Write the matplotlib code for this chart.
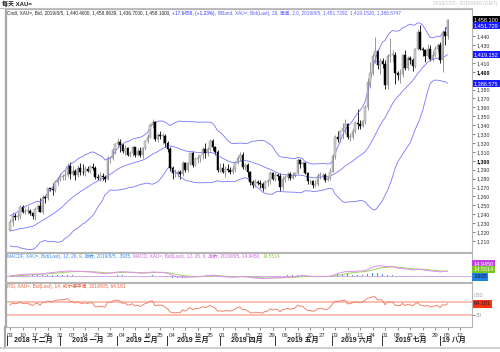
import matplotlib
matplotlib.use('Agg')
import matplotlib.pyplot as plt
import matplotlib.transforms as mtrans
from matplotlib.lines import Line2D
import numpy as np
import pandas as pd

plt.rcParams['font.family'] = ['Liberation Sans', 'Noto Sans CJK SC']

# spot gold XAU= daily, 2018-10-25 .. 2018-11-30 (only used to warm up the indicators)
warmup_close = [1232, 1235, 1228, 1223, 1215,
                1233, 1232, 1232, 1227, 1226, 1224, 1209, 1201, 1202, 1210, 1215,
                1222, 1224, 1222, 1227, 1227, 1223, 1222, 1214, 1221, 1223, 1222]

# 2018-12-03 .. 2019-08-05 (weekdays)
opens = [1222, 1231, 1238, 1237, 1238, 1248, 1243, 1244, 1244, 1241, 1238, 1246, 1249, 1243, 1259, 1258, 1269, 1268, 1267, 1276, 1280,
         1282, 1283, 1284, 1294, 1285, 1289, 1284, 1292, 1288, 1287, 1291, 1289, 1293, 1292, 1282, 1281, 1283, 1282, 1280, 1303, 1303, 1312, 1319,
         1321, 1318, 1311, 1314, 1307, 1309, 1315, 1307, 1311, 1306, 1314, 1322, 1327, 1340, 1344, 1324, 1329, 1328, 1328, 1320,
         1313, 1292, 1286, 1286, 1287, 1285, 1298, 1290, 1297, 1309, 1295, 1302, 1303, 1306, 1313, 1309, 1313, 1322, 1315, 1310, 1290,
         1292, 1287, 1291, 1290, 1288, 1291, 1298, 1303, 1307, 1293, 1295, 1287, 1276, 1273, 1276, 1275, 1274, 1270, 1276, 1277, 1286, 1280,
         1284, 1283, 1271, 1280, 1282, 1285, 1281, 1284, 1286, 1301, 1296, 1297, 1286, 1277, 1277, 1273, 1274, 1283, 1284, 1284, 1279, 1281, 1288,
         1305, 1327, 1325, 1333, 1337, 1341, 1327, 1327, 1334, 1342, 1341, 1339, 1345, 1360, 1388, 1399, 1418, 1423, 1408, 1412,
         1409, 1385, 1418, 1419, 1419, 1399, 1396, 1397, 1419, 1404, 1415, 1413, 1406, 1426, 1445, 1426, 1424, 1418, 1426, 1414, 1419, 1426, 1430,
         1413, 1445, 1440.4]
highs = [1235, 1242, 1241, 1243, 1250, 1250, 1247, 1249, 1246, 1243, 1248, 1252, 1258, 1262, 1262, 1270, 1270, 1275, 1279, 1282, 1286,
         1285, 1290, 1298, 1299, 1294, 1291, 1295, 1298, 1296, 1294, 1294, 1295, 1297, 1294, 1285, 1287, 1286, 1284, 1305, 1305, 1314, 1320, 1326,
         1325, 1320, 1318, 1316, 1311, 1317, 1316, 1314, 1315, 1316, 1323, 1330, 1342, 1347, 1345, 1331, 1334, 1331, 1330, 1322,
         1315, 1294, 1291, 1290, 1290, 1300, 1299, 1299, 1310, 1311, 1304, 1306, 1307, 1316, 1320, 1315, 1324, 1324, 1317, 1312, 1298,
         1297, 1294, 1296, 1293, 1295, 1300, 1307, 1310, 1310, 1298, 1297, 1289, 1279, 1280, 1278, 1278, 1276, 1279, 1280, 1289, 1288, 1287,
         1286, 1286, 1283, 1284, 1287, 1287, 1287, 1288, 1303, 1302, 1300, 1299, 1288, 1280, 1278, 1278, 1286, 1288, 1286, 1286, 1283, 1292, 1308,
         1329, 1333, 1335, 1342, 1347, 1342, 1331, 1337, 1345, 1358, 1346, 1346, 1363, 1393, 1411, 1421, 1439, 1426, 1415, 1416,
         1413, 1420, 1438, 1425, 1422, 1401, 1403, 1420, 1424, 1418, 1418, 1416, 1427, 1448, 1452, 1428, 1426, 1431, 1430, 1423, 1429, 1432, 1433,
         1447, 1450, 1458.96]
lows = [1221, 1227, 1234, 1233, 1235, 1241, 1240, 1240, 1239, 1235, 1234, 1244, 1242, 1240, 1253, 1256, 1266, 1262, 1265, 1273, 1277,
        1279, 1278, 1282, 1280, 1283, 1279, 1282, 1284, 1284, 1283, 1287, 1286, 1290, 1280, 1278, 1277, 1279, 1276, 1278, 1297, 1301, 1308, 1316,
        1310, 1309, 1307, 1305, 1304, 1305, 1304, 1305, 1304, 1303, 1312, 1320, 1326, 1337, 1322, 1321, 1324, 1319, 1316, 1310,
        1289, 1280, 1282, 1282, 1280, 1283, 1288, 1288, 1295, 1293, 1294, 1298, 1299, 1302, 1303, 1305, 1311, 1312, 1307, 1287, 1287,
        1286, 1282, 1287, 1285, 1285, 1288, 1296, 1300, 1291, 1290, 1282, 1273, 1270, 1271, 1273, 1270, 1266, 1268, 1272, 1274, 1278, 1277,
        1279, 1266, 1267, 1276, 1279, 1279, 1280, 1282, 1285, 1292, 1293, 1285, 1274, 1274, 1270, 1271, 1272, 1280, 1282, 1276, 1277, 1279, 1287,
        1302, 1321, 1321, 1325, 1330, 1325, 1322, 1325, 1331, 1336, 1336, 1338, 1341, 1357, 1382, 1396, 1410, 1403, 1398, 1404,
        1381, 1381, 1411, 1411, 1386, 1391, 1387, 1394, 1402, 1402, 1409, 1401, 1404, 1425, 1424, 1418, 1411, 1417, 1412, 1412, 1417, 1422, 1410,
        1400, 1430, 1436.7]
closes = [1231, 1238, 1237, 1238, 1248, 1243, 1244, 1244, 1241, 1238, 1246, 1249, 1243, 1259, 1258, 1269, 1268, 1267, 1276, 1280, 1282,
          1283, 1284, 1294, 1285, 1289, 1284, 1292, 1288, 1287, 1291, 1289, 1293, 1292, 1282, 1281, 1283, 1282, 1280, 1303, 1303, 1312, 1319, 1321,
          1318, 1311, 1314, 1307, 1309, 1315, 1307, 1311, 1306, 1314, 1322, 1327, 1340, 1344, 1324, 1329, 1328, 1328, 1320, 1313,
          1292, 1286, 1286, 1287, 1285, 1298, 1290, 1297, 1309, 1295, 1302, 1303, 1306, 1313, 1309, 1313, 1322, 1315, 1310, 1290, 1292,
          1287, 1291, 1290, 1288, 1291, 1298, 1303, 1307, 1293, 1295, 1287, 1276, 1273, 1276, 1275, 1274, 1270, 1276, 1277, 1286, 1280, 1284,
          1283, 1271, 1280, 1282, 1285, 1281, 1284, 1286, 1301, 1296, 1297, 1286, 1277, 1277, 1273, 1274, 1283, 1284, 1284, 1279, 1281, 1288, 1305,
          1327, 1325, 1333, 1337, 1341, 1327, 1327, 1334, 1342, 1341, 1339, 1345, 1360, 1388, 1399, 1418, 1423, 1408, 1412, 1409,
          1385, 1418, 1419, 1419, 1399, 1396, 1397, 1419, 1404, 1415, 1413, 1406, 1426, 1445, 1426, 1424, 1418, 1426, 1414, 1419, 1426, 1430, 1413,
          1445, 1440, 1458.1]

month_names = ['2018 十二月', '2019 一月', '2019 二月', '2019 三月', '2019 四月',
               '2019 五月', '2019 六月', '2019 七月', '19 八月']

dates = pd.bdate_range('2018-12-03', '2019-08-16')
n = len(closes)
x = np.arange(n)
o = np.array(opens); h = np.array(highs); l = np.array(lows); c = np.array(closes)

# indicators: BBand(26, 2.0), MACD(12, 26, 9), RSI(14, Wilder)
k = len(warmup_close)
allc = pd.Series(warmup_close + closes, dtype=float)
mid = allc.rolling(26).mean()
sd = allc.rolling(26).std(ddof=0)
bb_up = (mid + 2 * sd).values[k:]
bb_lo = (mid - 2 * sd).values[k:]
bb_mid = mid.values[k:]
macd = allc.ewm(span=12, adjust=False).mean() - allc.ewm(span=26, adjust=False).mean()
sig = macd.ewm(span=9, adjust=False).mean()
hist = (macd - sig).values[k:]
macd = macd.values[k:]
sig = sig.values[k:]
d = allc.diff()
gain = d.clip(lower=0).ewm(alpha=1 / 14, adjust=False).mean()
loss = (-d.clip(upper=0)).ewm(alpha=1 / 14, adjust=False).mean()
rsi = (100 - 100 / (1 + gain / loss)).values[k:]

W, H = 500, 352
fig = plt.figure(figsize=(5, 3.52), dpi=100)

def rect(top, bottom):
    return [6 / W, 1 - bottom / H, 466 / W, (bottom - top) / H]

def fy(py):
    return 1 - py / H

ax = fig.add_axes(rect(9, 252))
axm = fig.add_axes(rect(253, 282), sharex=ax)
axr = fig.add_axes(rect(283, 327), sharex=ax)

for a in (ax, axm, axr):
    for s in a.spines.values():
        s.set_color('#b4b4b4')
        s.set_linewidth(0.8)
    a.spines['left'].set_linewidth(1.6)
    a.spines['left'].set_color('#a8a8a8')
    a.yaxis.tick_right()
    a.tick_params(axis='x', which='both', length=0, labelbottom=False)
    a.tick_params(axis='y', length=2, width=0.5, color='#505050', labelsize=3.8,
                  labelcolor='#303030', pad=1)
axm.spines['top'].set_linewidth(1.4)
axr.spines['top'].set_linewidth(1.4)

ax.set_xlim(-1.6, 184.8)

# candles
up = c >= o
ax.vlines(x[up], l[up], h[up], color='#888888', lw=0.6, zorder=2)
ax.vlines(x[~up], l[~up], h[~up], color='#000000', lw=0.6, zorder=2)
body = np.maximum(np.abs(c - o), 0.6)
ax.bar(x[up], body[up], bottom=np.minimum(o, c)[up], width=0.75,
       color='#d2d2d2', edgecolor='#8e8e8e', linewidth=0.35, zorder=3)
ax.bar(x[~up], body[~up], bottom=np.minimum(o, c)[~up], width=0.75,
       color='#000000', edgecolor='#000000', linewidth=0.35, zorder=3)

bbc = '#7676ff'
ax.plot(x, bb_up, color=bbc, lw=0.6)
ax.plot(x, bb_mid, color=bbc, lw=0.6)
ax.plot(x, bb_lo, color=bbc, lw=0.6)

ax.set_ylim(1197.6, 1470.5)
pt = list(range(1210, 1451, 10))
hidden = (1390, 1420, 1450)   # sit under the value tags
ax.set_yticks(pt)
ax.set_yticklabels(['' if v in hidden else '{:,}'.format(v) for v in pt])
for t, v in zip(ax.get_yticklabels(), pt):
    if v in (1300, 1400):
        t.set_fontweight('bold')
        t.set_color('black')

ytr = mtrans.blended_transform_factory(ax.transAxes, ax.transData)
for val, txt, bg in [(1458.1, '1,458.100', '#000000'), (1451.7292, '1,451.729', '#1a1aff'),
                     (1419.152, '1,419.152', '#1a1aff'), (1386.5747, '1,386.575', '#1a1aff')]:
    ax.text(1.004, val, txt, transform=ytr, fontsize=4, color='white', va='center', ha='left',
            bbox=dict(boxstyle='square,pad=0.22', fc=bg, ec='none'), zorder=10, clip_on=False)

# legend line inside price pane
t1 = ax.text(0.003, 0.993, 'Cndl, XAU=, Bid, 2019/8/5, 1,440.4000, 1,458.9639, 1,436.7000, 1,458.1000, ',
             transform=ax.transAxes, fontsize=3.4, color='#202020', va='top', ha='left')
t2 = ax.annotate('+17.6458, (+1.23%), ', xy=(1, 0), xycoords=t1, fontsize=3.4,
                 color='#2a2aff', va='bottom', ha='left')
ax.annotate('BBand, XAU=, Bid(Last), 26, 简单, 2.0, 2019/8/5, 1,451.7292, 1,419.1520, 1,386.5747',
            xy=(1, 0), xycoords=t2, fontsize=3.4, color='#5a5aff', va='bottom', ha='left')

# MACD pane
axm.bar(x, hist, width=0.35, color='#3c8ee8', zorder=2)
axm.axhline(0, color='#c8a0e8', lw=0.6)
axm.plot(x, sig, color='#9cd45c', lw=0.7)
axm.plot(x, macd, color='#e38cf2', lw=0.7)
axm.set_ylim(-18, 68)
axm.set_yticks([])
m1 = axm.text(0.003, 0.96, 'MACDF, XAU=, Bid(Last), 12, 26, 9, 指数, 2019/8/5, .3935, ',
              transform=axm.transAxes, fontsize=3.4, color='#3a8ee6', va='top', ha='left')
m2 = axm.annotate('MACD, XAU=, Bid(Last), 12, 26, 9, 指数, 2019/8/5, 14.9450, ', xy=(1, 0),
                  xycoords=m1, fontsize=3.4, color='#cc66dd', va='bottom', ha='left')
axm.annotate('14.5514', xy=(1, 0), xycoords=m2, fontsize=3.4, color='#8ccc40',
             va='bottom', ha='left')
for py, txt, bg, fc in [(264, '14.9450', '#c040e0', 'white'), (269.5, '14.5514', '#7cc41e', 'white'),
                        (277, '.3935', '#1e82e6', '#101040')]:
    fig.text(473.5 / W, fy(py), txt, fontsize=4, color=fc, va='center', ha='left',
             bbox=dict(boxstyle='square,pad=0.22', fc=bg, ec='none'), zorder=10)

# RSI pane
axr.axhline(70, color='#f8b4a4', lw=1.2)
axr.axhline(30, color='#f8b4a4', lw=1.2)
axr.plot(x, rsi, color='#f3856c', lw=0.7)
axr.set_ylim(-7, 128)
axr.set_yticks([30])
axr.set_yticklabels(['30'], color='#909090')
axr.text(0.003, 0.97, 'RSI, XAU=, Bid(Last), 14, 威尔德平滑, 2019/8/5, 64.181',
         transform=axr.transAxes, fontsize=3.4, color='#f0603c', va='top', ha='left')
rtr = mtrans.blended_transform_factory(axr.transAxes, axr.transData)
axr.text(1.004, rsi[-1], '64.181', transform=rtr, fontsize=4, color='#202020',
         va='center', ha='left', bbox=dict(boxstyle='square,pad=0.22', fc='#ff3010', ec='none'),
         zorder=10, clip_on=False)
axr.text(1.004, 90, 'USD', transform=rtr, fontsize=3.4, color='#a8a8a8', va='center', ha='left',
         clip_on=False)

# weekly date ticks
mondays = [i for i, dt in enumerate(dates) if dt.weekday() == 0]
axr.set_xticks(mondays)
axr.set_xticklabels([dates[i].strftime('%d') for i in mondays])
axr.tick_params(axis='x', length=2.5, width=0.5, color='#606060', labelbottom=True,
                labelsize=4.3, labelcolor='#303030', pad=1.5)

# month row
mt = mtrans.blended_transform_factory(axr.transData, fig.transFigure)
starts = [0] + [i for i in range(1, len(dates)) if dates[i].month != dates[i - 1].month]
seps = [s - 1.2 for s in starts] + [184.8]
for j, name in enumerate(month_names):
    fig.add_artist(Line2D([seps[j], seps[j]], [fy(335.5), fy(345)], transform=mt,
                          color='#303030', lw=0.7))
    if j < len(month_names) - 1:
        xc = (seps[j] + seps[j + 1]) / 2
        fig.text(xc, fy(340.5), name, transform=mt, fontsize=5, fontweight='bold',
                 ha='center', va='center', color='#202020')
    else:
        fig.text(seps[j] + 0.8, fy(340.5), name, transform=mt, fontsize=5, fontweight='bold',
                 ha='left', va='center', color='#202020')

# outer frame and header
fig.add_artist(Line2D([5 / W, 5 / W], [fy(327), fy(347)], color='#a8a8a8', lw=1.6))
fig.add_artist(Line2D([0, 1], [fy(347.5), fy(347.5)], color='#c8c8c8', lw=1.2))
fig.add_artist(Line2D([0, 472 / W], [fy(8), fy(8)], color='#c0c0c0', lw=0.8))
fig.text(2 / W, fy(3.5), '每天 XAU=', fontsize=4.3, fontweight='bold', va='center', ha='left',
         color='#202020')
fig.text(497 / W, fy(3.5), '2018/12/3 - 2019/8/16 (GMT)', fontsize=3.6, va='center', ha='right',
         color='#c4c4c4')

fig.savefig('out.png', dpi=100)
